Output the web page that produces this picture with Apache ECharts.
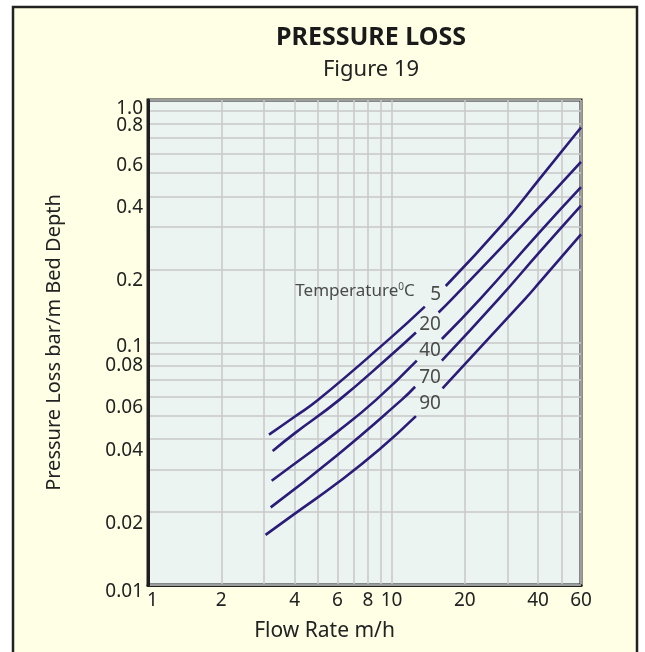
<!DOCTYPE html>
<html>
<head>
<meta charset="utf-8">
<script src="https://cdn.jsdelivr.net/npm/echarts@6/dist/echarts.min.js"></script>
<style>
html,body{margin:0;padding:0;background:#ffffff;}
#chart{width:645px;height:652px;}
</style>
</head>
<body>
<div id="chart"></div>
<script>
// ---------- data ----------
const xGridValues = [1, 2, 3, 4, 5, 6, 7, 8, 9, 10, 20, 30, 40, 50, 60];
const xTickLabels = [1, 2, 4, 6, 8, 10, 20, 40, 60];
const yGridValues = [0.01, 0.02, 0.03, 0.04, 0.05, 0.06, 0.07, 0.08, 0.09,
                     0.1, 0.2, 0.3, 0.4, 0.5, 0.6, 0.7, 0.8, 0.9, 1];
const yTickLabels = [0.01, 0.02, 0.04, 0.06, 0.08, 0.1, 0.2, 0.4, 0.6, 0.8, 1];

const temperatures = ['5', '20', '40', '70', '90'];

const curve5Lower  = [[3.14, 0.0417], [4.0, 0.0494], [5.0, 0.058], [9.86, 0.104], [13.7, 0.1406]];
const curve5Upper  = [[16.7, 0.171], [28.8, 0.31], [40.7, 0.475], [60, 0.77]];
const curve20Lower = [[3.25, 0.0357], [4.0, 0.0422], [6.1, 0.058], [9.86, 0.088], [12.6, 0.110]];
const curve20Upper = [[15.6, 0.133], [17.7, 0.151], [34.8, 0.308], [60, 0.556]];
const curve40Lower = [[3.22, 0.0269], [4.0, 0.0316], [6.0, 0.0429], [8.64, 0.058], [12.7, 0.0842]];
const curve40Upper = [[16.1, 0.1034], [23.1, 0.151], [40.7, 0.286], [60, 0.437]];
const curve70Lower = [[3.19, 0.0209], [6.0, 0.0344], [11.0, 0.058], [12.5, 0.0657]];
const curve70Upper = [[16.1, 0.0842], [27.5, 0.151], [40.7, 0.237], [60, 0.367]];
const curve90Lower = [[3.04, 0.0161], [4.01, 0.0197], [6.01, 0.0264], [8.91, 0.0362], [12.6, 0.0497]];
const curve90Upper = [[16.2, 0.0647], [35.3, 0.151], [40.7, 0.1777], [60, 0.279]];

const lowerSegments = [curve5Lower, curve20Lower, curve40Lower, curve70Lower, curve90Lower];
const upperSegments = [curve5Upper, curve20Upper, curve40Upper, curve70Upper, curve90Upper];

// label anchor points (data coordinates)
const tempLabelPoints = [[15.2, 0.157], [14.4, 0.118], [14.4, 0.0925], [14.4, 0.0719], [14.4, 0.0561]];
const legendTitlePoint = [7.08, 0.163];

// ---------- styling ----------
const FONT = 'Noto Sans';
const LINE_COLOR = '#2a1c78';
const GRID_COLOR = '#c9c9c9';
const TEXT_COLOR = '#222222';
const TICK_SIZE = 19;

function fmt(v) { return String(+Number(v).toPrecision(6)); }

// vertical nudges of y-axis labels (pixels, + = down); default for others
const yShiftSpecial = { '1': 5, '0.8': -1, '0.1': 1, '0.08': -4, '0.01': 3 };
const yShiftDefault = 8;

// group y labels by their nudge -> one label-only axis per group
const yGroups = {};
yTickLabels.forEach(function (v) {
  const k = fmt(v);
  const s = (k in yShiftSpecial) ? yShiftSpecial[k] : yShiftDefault;
  (yGroups[s] = yGroups[s] || []).push(v);
});

function yAxisBase() {
  return { type: 'log', logBase: 10, min: 0.01, max: 1, gridIndex: 0, position: 'left', offset: 0 };
}

const yAxes = [];
const mainY = yAxisBase();
Object.assign(mainY, {
  name: 'Pressure Loss bar/m Bed Depth',
  nameLocation: 'middle',
  nameGap: 84,
  nameTextStyle: { fontFamily: FONT, fontSize: 20, color: TEXT_COLOR },
  axisLine: { show: true, lineStyle: { color: '#1e1e1e', width: 3 } },
  axisTick: { show: false, customValues: yGridValues },
  axisLabel: { show: false },
  splitLine: { show: true, lineStyle: { color: GRID_COLOR, width: 1.5 } },
  minorSplitLine: { show: false },
  z: 2
});
yAxes.push(mainY);

Object.keys(yGroups).forEach(function (sKey) {
  const s = Number(sKey);
  const ax = yAxisBase();
  Object.assign(ax, {
    axisLine: { show: false },
    axisTick: { show: false },
    splitLine: { show: false },
    axisLabel: {
      customValues: yGroups[sKey],
      formatter: function (v) { const k = fmt(v); return '{t|' + (k === '1' ? '1.0' : k) + '}'; },
      rich: {
        t: {
          fontFamily: FONT, fontSize: TICK_SIZE, color: TEXT_COLOR,
          lineHeight: Math.max(2, 2 * s + 26), verticalAlign: 'bottom'
        }
      },
      margin: 5,
      hideOverlap: false,
      showMinLabel: true, showMaxLabel: true
    }
  });
  yAxes.push(ax);
});

const series = [];
temperatures.forEach(function (t, i) {
  [lowerSegments[i], upperSegments[i]].forEach(function (seg) {
    series.push({
      name: t,
      type: 'line',
      yAxisIndex: 0,
      data: seg,
      smooth: 0.5,
      showSymbol: false,
      symbol: 'none',
      lineStyle: { color: LINE_COLOR, width: 2.6 },
      silent: true,
      z: 3
    });
  });
});

series.push({
  type: 'scatter',
  yAxisIndex: 0,
  data: tempLabelPoints.map(function (p, i) { return { value: p, name: temperatures[i] }; }),
  symbolSize: 0,
  silent: true,
  label: {
    show: true,
    position: 'inside',
    formatter: function (p) { return p.name; },
    fontFamily: FONT,
    fontSize: 19,
    color: TEXT_COLOR
  },
  z: 4
});

series.push({
  type: 'scatter',
  yAxisIndex: 0,
  data: [{ value: legendTitlePoint, name: 'Temperature' }],
  symbolSize: 0,
  silent: true,
  label: {
    show: true,
    position: 'inside',
    formatter: 'Temperature{s|0}C',
    fontFamily: FONT,
    fontSize: 17,
    color: TEXT_COLOR,
    rich: {
      s: { fontSize: 10, fontFamily: FONT, color: TEXT_COLOR, padding: [0, 0, 8, 0] }
    }
  },
  z: 4
});

const chart = echarts.init(document.getElementById('chart'), null, { renderer: 'canvas' });

chart.setOption({
  backgroundColor: '#ffffff',
  animation: false,
  textStyle: { fontFamily: FONT },
  graphic: [{
    type: 'rect',
    shape: { x: 13, y: 7, width: 624, height: 660 },
    style: { fill: '#ffffe6', stroke: '#222222', lineWidth: 2.5 },
    z: -10,
    silent: true
  }],
  title: [
    {
      text: 'PRESSURE LOSS',
      left: 366, top: 20, textAlign: 'center',
      textStyle: { fontFamily: FONT, fontWeight: 'bold', fontSize: 25, color: '#1a1a1a' }
    },
    {
      text: 'Figure 19',
      left: 366, top: 54, textAlign: 'center',
      textStyle: { fontFamily: FONT, fontWeight: 'normal', fontSize: 22, color: TEXT_COLOR }
    }
  ],
  grid: {
    left: 148, right: 64, top: 100, bottom: 67,
    show: true,
    backgroundColor: '#ebf4f0',
    borderColor: '#1e1e1e',
    borderWidth: 3,
    containLabel: false
  },
  xAxis: {
    type: 'log',
    logBase: 10,
    min: 1,
    max: 60,
    name: 'Flow Rate m/h',
    nameLocation: 'middle',
    nameGap: 36,
    nameTextStyle: { fontFamily: FONT, fontSize: 21, color: TEXT_COLOR, padding: [0, 80, 0, 0] },
    axisLine: { show: true, lineStyle: { color: '#1e1e1e', width: 3 } },
    axisTick: { show: false, customValues: xGridValues },
    axisLabel: {
      customValues: xTickLabels,
      formatter: function (v) { const k = fmt(v); return k === '1' ? '{p|1}' : k; },
      rich: { p: { fontFamily: FONT, fontSize: TICK_SIZE, color: TEXT_COLOR, padding: [0, 0, 0, 9] } },
      fontFamily: FONT, fontSize: TICK_SIZE, color: TEXT_COLOR, margin: 6,
      hideOverlap: false,
      showMinLabel: true, showMaxLabel: true
    },
    splitLine: { show: true, lineStyle: { color: GRID_COLOR, width: 1.5 } },
    minorSplitLine: { show: false }
  },
  yAxis: yAxes,
  series: series
});
</script>
</body>
</html>
